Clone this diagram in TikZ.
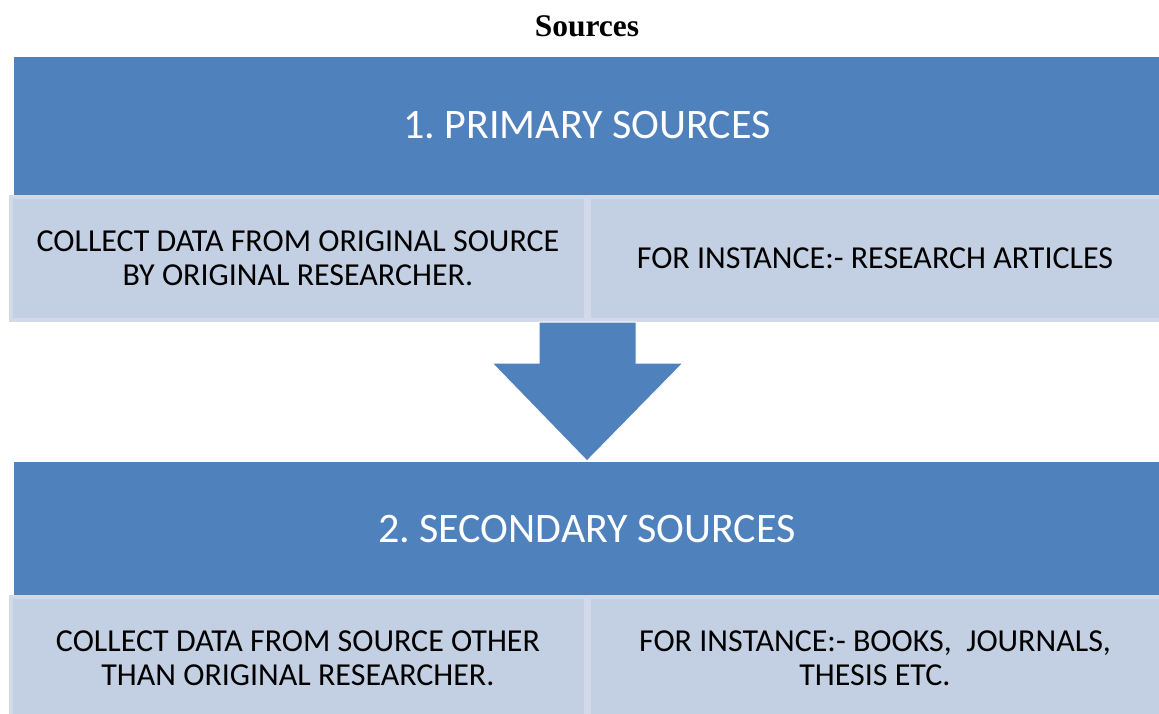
\documentclass[tikz,border=0pt]{standalone}
\usepackage{fontspec}
\setmainfont{Carlito}
\newfontfamily\titlefont{Liberation Serif}
\definecolor{hdrblue}{HTML}{4F81BD}
\definecolor{cellfill}{HTML}{C3CFE2}
\definecolor{celledge}{HTML}{D2DAE9}
\frenchspacing
\begin{document}
\begin{tikzpicture}[x=1pt,y=-1pt,
  header/.style={fill=hdrblue,draw=none},
  cell/.style={fill=cellfill,draw=celledge,line width=4pt},
  hdrtext/.style={text=white,font=\fontsize{42}{46}\selectfont,inner sep=0pt},
  celltext/.style={text=black,font=\fontsize{32}{34.5}\selectfont,align=center,inner sep=0pt},
  arrowshape/.style={fill=hdrblue,draw=white,line width=1pt}]
\useasboundingbox (0,0) rectangle (1159,713);
\clip (0,0) rectangle (1159,713);
% title
\node[font=\titlefont\bfseries\fontsize{31.5}{35}\selectfont,inner sep=0pt] (title) at (587,26) {Sources};
% primary
\path[header] (14,57) rectangle (1165,195);
\node[hdrtext] (h1) at (587,125) {1. PRIMARY SOURCES};
\path[cell] (11,197) rectangle (586,320);
\path[cell] (589,197) rectangle (1170,320);
\node[celltext] (c1a) at (298,258) {COLLECT DATA FROM ORIGINAL SOURCE\\BY ORIGINAL RESEARCHER.};
\node[celltext] (c1b) at (875,258) {FOR INSTANCE:- RESEARCH ARTICLES};
% arrow
\path[arrowshape] (539,322) -- (636,322) -- (636,363) -- (683,363) -- (587,461) -- (492,363) -- (539,363) -- cycle;
% secondary
\path[header] (14,462) rectangle (1165,595);
\node[hdrtext] (h2) at (587,529) {2. SECONDARY SOURCES};
\path[cell] (11,597) rectangle (586,720);
\path[cell] (589,597) rectangle (1170,720);
\node[celltext] (c2a) at (298,658) {COLLECT DATA FROM SOURCE OTHER\\THAN ORIGINAL RESEARCHER.};
\node[celltext] (c2b) at (875,658) {FOR INSTANCE:- BOOKS,\ \ JOURNALS,\\THESIS ETC.};
\end{tikzpicture}
\end{document}
